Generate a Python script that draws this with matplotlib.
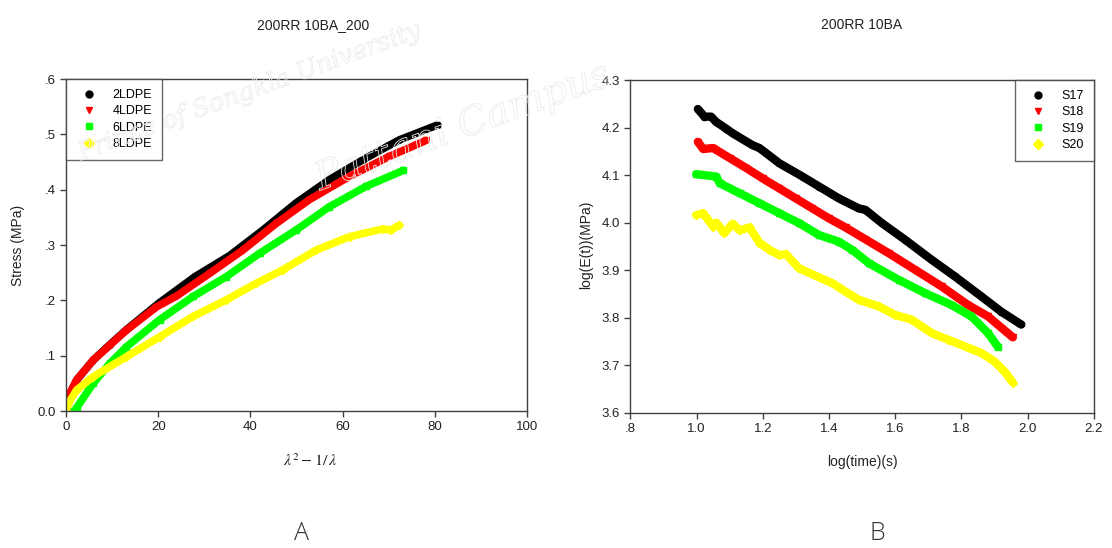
import matplotlib
matplotlib.use("Agg")
import matplotlib.pyplot as plt
import matplotlib.patheffects as pe
from matplotlib.ticker import FuncFormatter

plt.rcParams['font.family'] = ['Liberation Sans', 'DejaVu Sans']
plt.rcParams['mathtext.fontset'] = 'stix'

# ---- panel A: stress vs lambda^2 - 1/lambda ----
ldpe_names = ['2LDPE', '4LDPE', '6LDPE', '8LDPE']

x_2ldpe = [0, 1.0, 2.3, 5.9, 9.5, 13.1, 20.3, 28.0, 35.5, 42.7, 49.9, 57.1, 64.4, 72.3, 80.6]
y_2ldpe = [0, 0.033, 0.056, 0.092, 0.120, 0.147, 0.196, 0.243, 0.281, 0.327, 0.376, 0.418, 0.454, 0.490, 0.517]

x_4ldpe = [0, 1.0, 2.3, 5.9, 9.5, 13.1, 19.6, 24.0, 31.2, 38.4, 45.6, 52.8, 61.5, 70.1, 78.1]
y_4ldpe = [0, 0.035, 0.056, 0.092, 0.119, 0.146, 0.188, 0.208, 0.249, 0.291, 0.339, 0.382, 0.424, 0.460, 0.489]

x_6ldpe = [1.8, 2.3, 5.9, 9.5, 13.1, 20.3, 27.6, 34.8, 42.0, 49.9, 57.1, 65.1, 73.2]
y_6ldpe = [0, 0.006, 0.050, 0.086, 0.116, 0.165, 0.207, 0.243, 0.285, 0.327, 0.369, 0.406, 0.435]

x_8ldpe = [0, 0.4, 2.3, 5.9, 13.1, 20.3, 27.6, 34.8, 41.3, 47.0, 54.3, 61.5, 68.7, 70.5, 72.3]
y_8ldpe = [0, 0.012, 0.038, 0.062, 0.098, 0.134, 0.171, 0.201, 0.231, 0.255, 0.291, 0.315, 0.329, 0.327, 0.336]

# ---- panel B: log E(t) vs log time ----
s_names = ['S17', 'S18', 'S19', 'S20']

t_s17 = [1.004, 1.024, 1.044, 1.059, 1.089, 1.109, 1.169, 1.19, 1.25, 1.32, 1.37, 1.43,
         1.49, 1.51, 1.56, 1.63, 1.71, 1.78, 1.86, 1.92, 1.98]
e_s17 = [4.239, 4.223, 4.223, 4.212, 4.198, 4.188, 4.163, 4.157, 4.125, 4.097, 4.076, 4.051,
         4.030, 4.027, 3.999, 3.964, 3.922, 3.887, 3.845, 3.813, 3.786]

t_s18 = [1.004, 1.02, 1.05, 1.1, 1.15, 1.2, 1.25, 1.3, 1.35, 1.4, 1.45, 1.51, 1.58, 1.66,
         1.74, 1.82, 1.88, 1.955]
e_s18 = [4.170, 4.155, 4.157, 4.136, 4.115, 4.093, 4.072, 4.051, 4.030, 4.009, 3.990, 3.965,
         3.936, 3.901, 3.866, 3.827, 3.803, 3.759]

t_s19 = [0.999, 1.06, 1.07, 1.13, 1.19, 1.25, 1.31, 1.37, 1.43, 1.47, 1.52, 1.61, 1.69,
         1.77, 1.83, 1.88, 1.91]
e_s19 = [4.102, 4.097, 4.083, 4.062, 4.041, 4.020, 3.999, 3.974, 3.960, 3.943, 3.915, 3.880,
         3.852, 3.827, 3.803, 3.768, 3.739]

t_s20 = [0.999, 1.02, 1.05, 1.06, 1.084, 1.109, 1.13, 1.16, 1.19, 1.22, 1.25, 1.27, 1.31,
         1.37, 1.41, 1.45, 1.49, 1.55, 1.6, 1.65, 1.71, 1.76, 1.81, 1.86, 1.9, 1.93, 1.955]
e_s20 = [4.016, 4.020, 3.992, 4.000, 3.978, 3.998, 3.984, 3.990, 3.958, 3.943, 3.932, 3.934,
         3.904, 3.885, 3.873, 3.855, 3.838, 3.824, 3.806, 3.796, 3.768, 3.754, 3.740, 3.726,
         3.708, 3.687, 3.664]

colors = ['#000000', '#ff0000', '#00ff00', '#ffff00']
markers = ['o', 'v', 's', 'D']
spine_c = '#404040'

fig = plt.figure(figsize=(11.12, 5.48), dpi=100)
axA = fig.add_axes([0.0594, 0.250, 0.4145, 0.6058])
axB = fig.add_axes([0.5668, 0.2464, 0.4170, 0.6076])


def style_axes(ax):
    for s in ax.spines.values():
        s.set_color(spine_c)
        s.set_linewidth(1.0)
    ax.tick_params(direction='out', length=4, width=1, color=spine_c,
                   labelsize=9.5, labelcolor='#222222', top=False, right=False)


def draw_series(ax, xs, ys, names, lw, ms):
    for x, y, c, m, n in zip(xs, ys, colors, markers, names):
        ax.plot(x, y, color=c, lw=lw, solid_capstyle='round', solid_joinstyle='round')
        ax.plot(x, y, ls='none', marker=m, color=c, ms=ms, mec=c)
        ax.plot([], [], ls='none', marker=m, color=c, ms=5, label=n)


def add_legend(ax, loc):
    leg = ax.legend(loc=loc, borderaxespad=0, frameon=True, fancybox=False,
                    fontsize=9, handletextpad=0.8, borderpad=0.8, labelspacing=0.35,
                    handlelength=2.1)
    leg.get_frame().set_edgecolor(spine_c)
    leg.get_frame().set_linewidth(1)


draw_series(axA, [x_2ldpe, x_4ldpe, x_6ldpe, x_8ldpe],
            [y_2ldpe, y_4ldpe, y_6ldpe, y_8ldpe], ldpe_names, 5.5, 4)
axA.set_xlim(0, 100)
axA.set_ylim(0, 0.6)
axA.set_xticks([0, 20, 40, 60, 80, 100])
axA.set_yticks([0, 0.1, 0.2, 0.3, 0.4, 0.5, 0.6])
axA.yaxis.set_major_formatter(FuncFormatter(lambda v, p: '0.0' if v == 0 else ('%.1f' % v)[1:]))
style_axes(axA)
add_legend(axA, 'upper left')

draw_series(axB, [t_s17, t_s18, t_s19, t_s20],
            [e_s17, e_s18, e_s19, e_s20], s_names, 6, 4.5)
axB.set_xlim(0.8, 2.2)
axB.set_ylim(3.6, 4.3)
axB.set_xticks([0.8, 1.0, 1.2, 1.4, 1.6, 1.8, 2.0, 2.2])
axB.set_yticks([3.6, 3.7, 3.8, 3.9, 4.0, 4.1, 4.2, 4.3])
axB.xaxis.set_major_formatter(FuncFormatter(lambda v, p: ('%.1f' % v)[1:] if v < 1 else '%.1f' % v))
style_axes(axB)
add_legend(axB, 'upper right')

# titles and labels
fig.text(313 / 1112, 1 - 25 / 548, '200RR 10BA_200', ha='center', va='center', fontsize=10, color='#222222')
fig.text(862 / 1112, 1 - 25 / 548, '200RR 10BA', ha='center', va='center', fontsize=10, color='#222222')
fig.text(18 / 1112, 1 - 245 / 548, 'Stress (MPa)', rotation=90, ha='center', va='center', fontsize=10, color='#222222')
fig.text(586 / 1112, 1 - 245 / 548, 'log(E(t))(MPa)', rotation=90, ha='center', va='center', fontsize=10, color='#222222')
fig.text(310 / 1112, 1 - 461 / 548, r'$\lambda^2 - 1/\,\lambda$', ha='center', va='center', fontsize=11.5, color='#222222')
fig.text(862 / 1112, 1 - 462 / 548, 'log(time)(s)', ha='center', va='center', fontsize=10, color='#222222')
fig.text(301 / 1112, 1 - 534 / 548, 'A', ha='center', va='center', fontsize=18, color='#333333',
         family=['Open Sans', 'DejaVu Sans'], fontweight='light')
fig.text(877 / 1112, 1 - 534 / 548, 'B', ha='center', va='center', fontsize=18, color='#333333',
         family=['Open Sans', 'DejaVu Sans'], fontweight='light')

# faint watermark
wm = [pe.withStroke(linewidth=0.6, foreground='#ebebeb')]
fig.text(75 / 1112, 1 - 160 / 548, 'Prince of Songkla University', rotation=20, fontsize=18,
         family='DejaVu Serif', style='italic', color='none', path_effects=wm, zorder=0)
fig.text(310 / 1112, 1 - 190 / 548, 'Pattani Campus', rotation=20, fontsize=28,
         family='DejaVu Serif', style='italic', color='none', path_effects=wm, zorder=10)

fig.savefig('out.png', dpi=100)
